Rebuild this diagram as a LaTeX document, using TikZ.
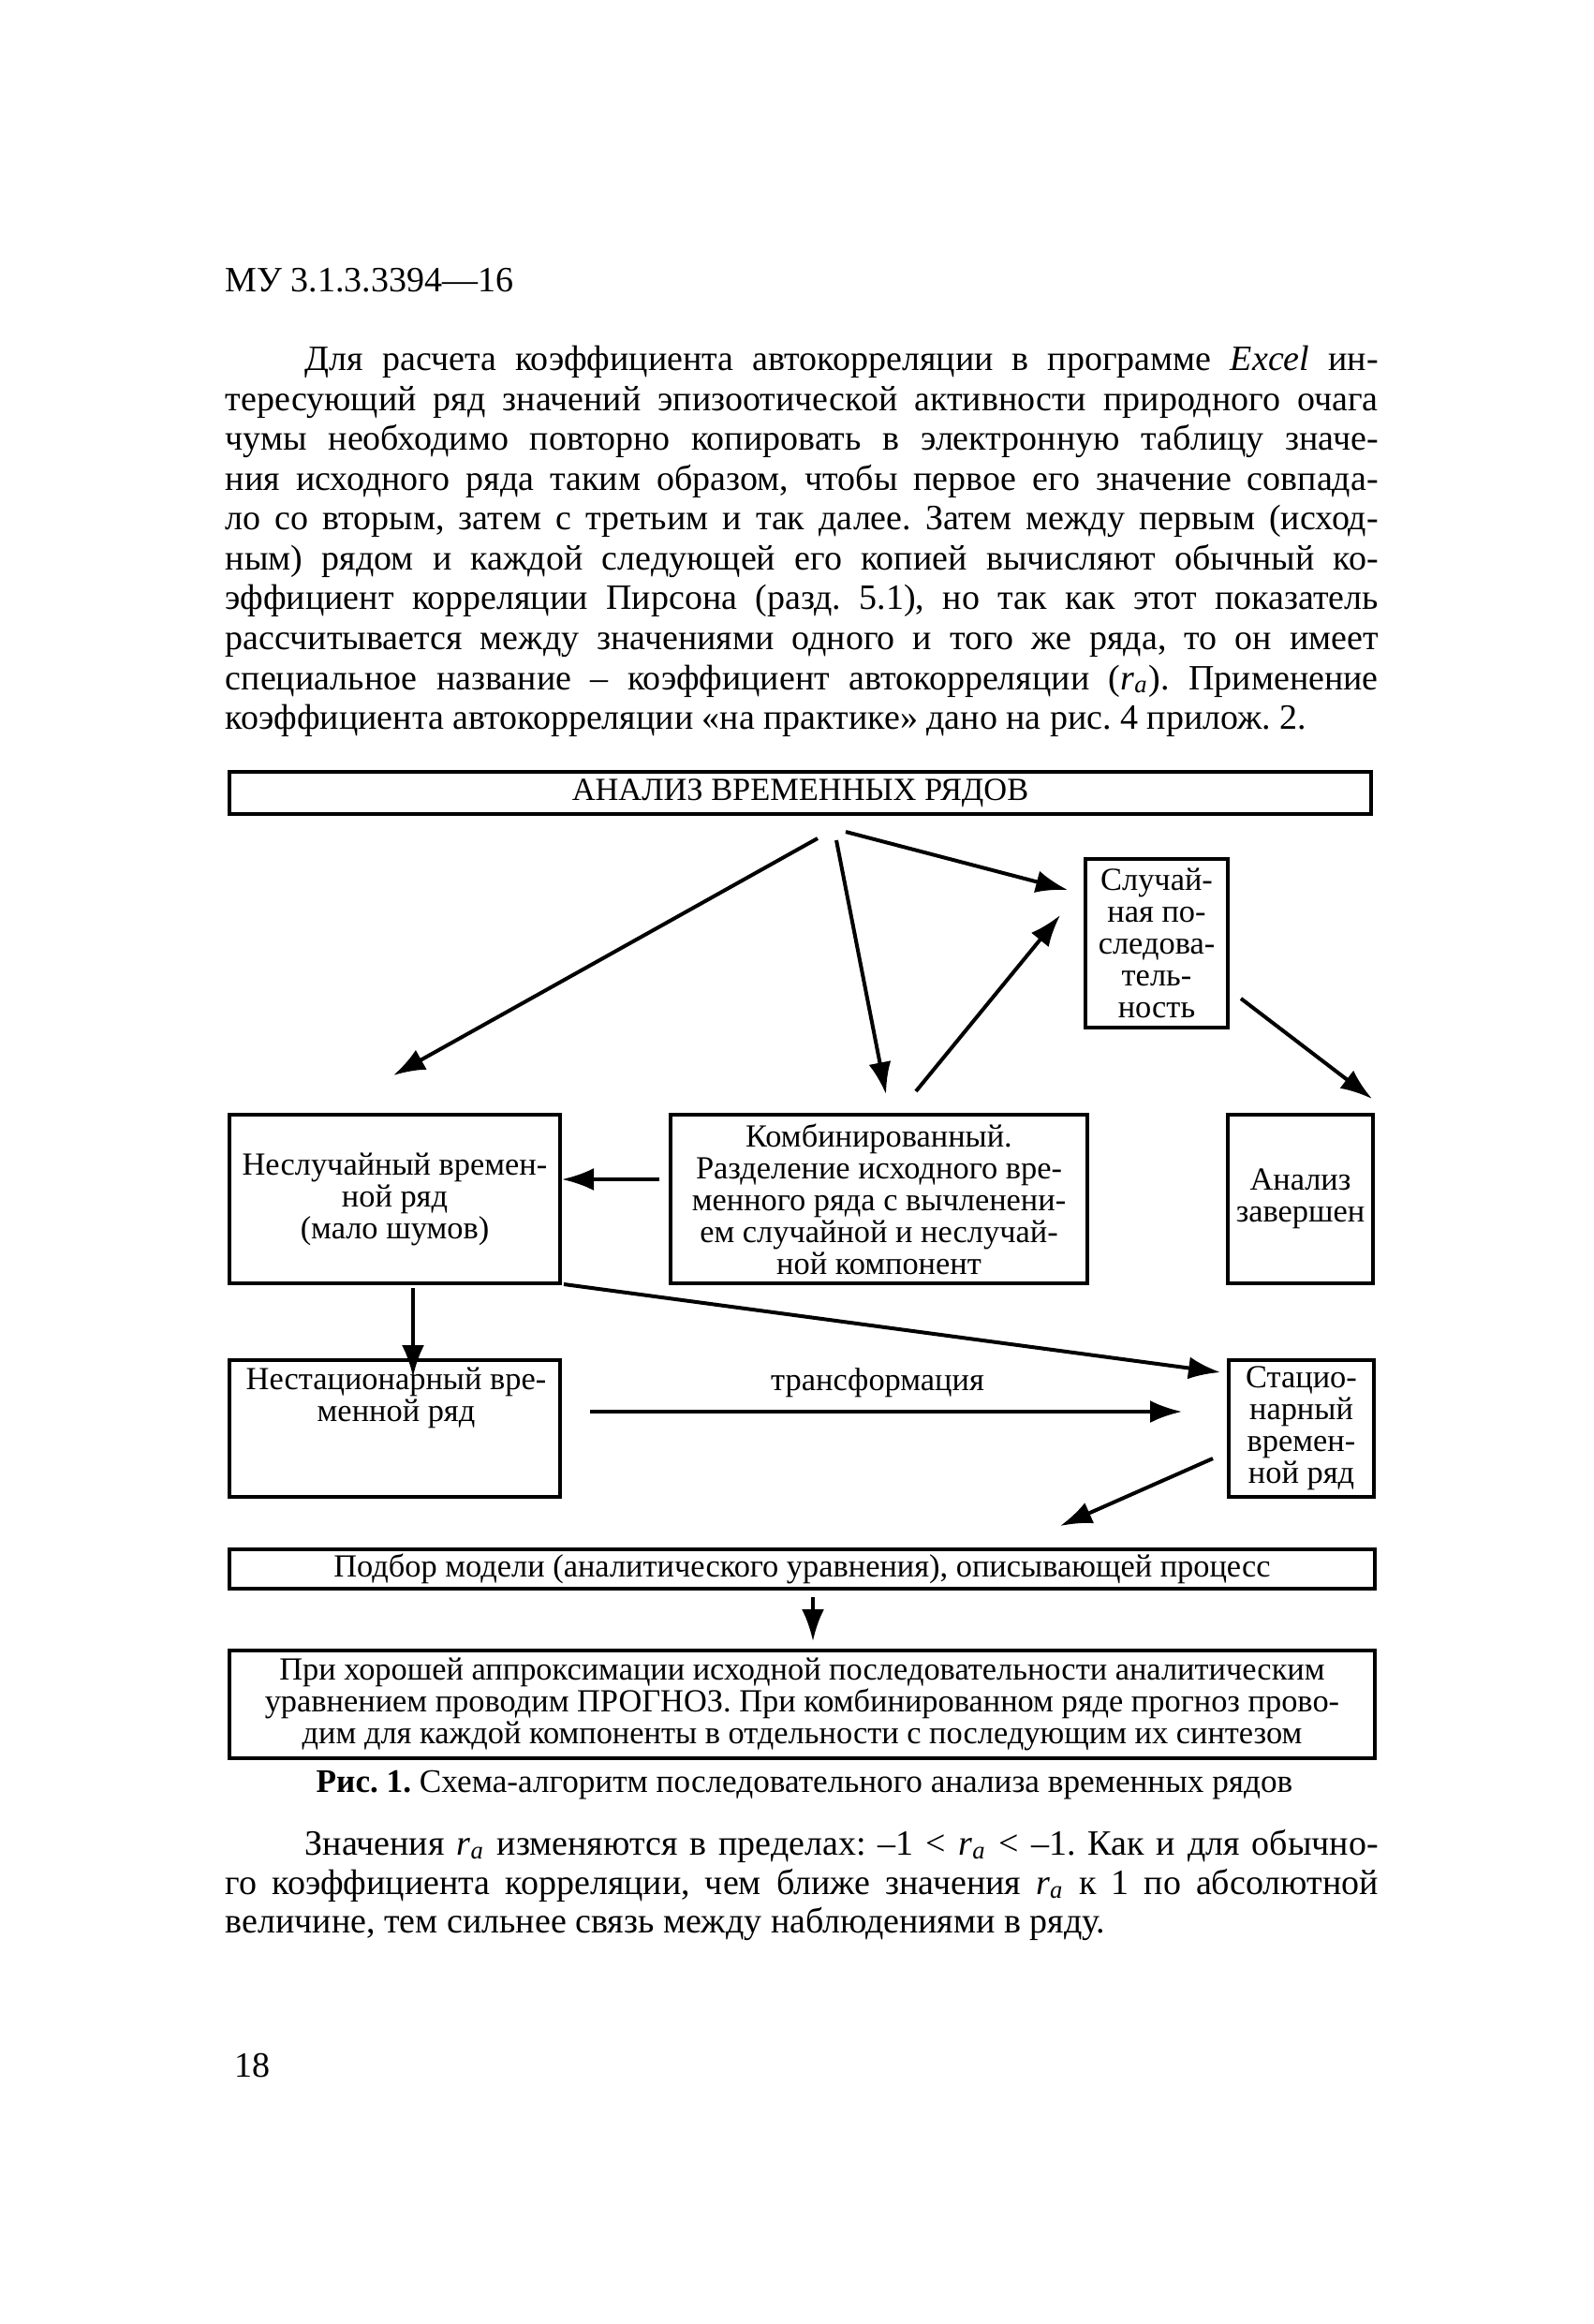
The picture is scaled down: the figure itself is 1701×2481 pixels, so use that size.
\documentclass[tikz,border=0pt]{standalone}
\usepackage{fontspec}
\setmainfont{Liberation Serif}
\usetikzlibrary{arrows.meta}
\frenchspacing
\newcommand{\ra}{\textit{r}\textsubscript{\textit{a}}}
\newcommand{\jl}[1]{\makebox[307.75pt][s]{#1}}
\newcommand{\jli}[1]{\makebox[286.5pt][s]{#1}}
\begin{document}
\begin{tikzpicture}[x=0.25pt,y=-0.25pt,
  txt/.style={inner sep=0pt, anchor=base west, font=\fontsize{9.5}{10.6}\selectfont},
  box/.style={draw, line width=0.85pt, inner sep=0pt, align=center, font=\fontsize{8.6}{8.5}\selectfont},
  btxt/.style={inner sep=0pt, align=center, font=\fontsize{8.6}{8.5}\selectfont},
  arr/.style={line width=1pt, -{Latex[length=8.5pt,width=6pt]}},
]
\useasboundingbox[fill=white] (0,0) rectangle (1701,2481);

% header and first paragraph
\node[txt] (hdr) at (240,312) {МУ 3.1.3.3394—16};
\node[txt] (p1a) at (325,396) {\jli{Для расчета коэффициента автокорреляции в программе \textit{Excel} ин-}};
\node[txt] (p1b) at (240,438.5) {\jl{тересующий ряд значений эпизоотической активности природного очага}};
\node[txt] (p1c) at (240,481) {\jl{чумы необходимо повторно копировать в электронную таблицу значе-}};
\node[txt] (p1d) at (240,523.5) {\jl{ния исходного ряда таким образом, чтобы первое его значение совпада-}};
\node[txt] (p1e) at (240,566) {\jl{ло со вторым, затем с третьим и так далее. Затем между первым (исход-}};
\node[txt] (p1f) at (240,608.5) {\jl{ным) рядом и каждой следующей его копией вычисляют обычный ко-}};
\node[txt] (p1g) at (240,651) {\jl{эффициент корреляции Пирсона (разд. 5.1), но так как этот показатель}};
\node[txt] (p1h) at (240,693.5) {\jl{рассчитывается между значениями одного и того же ряда, то он имеет}};
\node[txt] (p1i) at (240,736) {\jl{специальное название – коэффициент автокорреляции (\ra). Применение}};
\node[txt] (p1j) at (240,778.5) {коэффициента автокорреляции «на практике» дано на рис. 4 прилож. 2.};

% boxes
\node[box, minimum width=304.75pt, minimum height=11.25pt] (T) at (854.5,846.5) {АНАЛИЗ ВРЕМЕННЫХ РЯДОВ};
\node[box, minimum width=38pt, minimum height=45pt] (S) at (1235,1007) {Случай-\\ная по-\\следова-\\тель-\\ность};
\node[box, minimum width=88.25pt, minimum height=45pt] (N1) at (421.5,1280) {Неслучайный времен-\\ной ряд\\(мало шумов)};
\node[box, minimum width=111.25pt, minimum height=45pt] (K) at (938.5,1280) {Комбинированный.\\Разделение исходного вре-\\менного ряда с вычленени-\\ем случайной и неслучай-\\ной компонент};
\node[box, minimum width=38.75pt, minimum height=45pt] (Z) at (1388.5,1280) {Анализ\\завершен};
\node[box, minimum width=88.25pt, minimum height=36.5pt] (NS) at (421.5,1525) {};
\node[btxt, anchor=base] (NStxt) at (423,1517) {Нестационарный вре-\\менной ряд};
\node[box, minimum width=38.75pt, minimum height=36.5pt] (ST) at (1389.5,1525) {Стацио-\\нарный\\времен-\\ной ряд};
\node[btxt, anchor=base] (tr) at (937,1484) {трансформация};
\node[box, minimum width=305.75pt, minimum height=10.5pt] (P) at (856.5,1675) {Подбор модели (аналитического уравнения), описывающей процесс};
\node[box, minimum width=305.75pt, minimum height=28.75pt] (PR) at (856.5,1819.5) {При хорошей аппроксимации исходной последовательности аналитическим\\уравнением проводим ПРОГНОЗ. При комбинированном ряде прогноз прово-\\дим для каждой компоненты в отдельности с последующим их синтезом};

% arrow end points
\coordinate (a1s) at (873,895);  \coordinate (a1e) at (420,1148);
\coordinate (a2s) at (893,897);  \coordinate (a2e) at (946,1168);
\coordinate (a3s) at (903,888);  \coordinate (a3e) at (1140,950);
\coordinate (a4s) at (978,1165); \coordinate (a4e) at (1132,977);
\coordinate (a5s) at (1325,1066);\coordinate (a5e) at (1465,1173);
\coordinate (a6s) at (704,1259); \coordinate (a6e) at (600,1259);
\coordinate (a7s) at (441,1375); \coordinate (a7e) at (441,1470);
\coordinate (a8s) at (602,1371); \coordinate (a8e) at (1303,1465);
\coordinate (a9s) at (630,1507); \coordinate (a9e) at (1262,1507);
\coordinate (a10s) at (1295,1557); \coordinate (a10e) at (1132,1629);
\coordinate (a11s) at (868,1705); \coordinate (a11e) at (868,1752);

\draw[arr] (a1s) -- (a1e);
\draw[arr] (a2s) -- (a2e);
\draw[arr] (a3s) -- (a3e);
\draw[arr] (a4s) -- (a4e);
\draw[arr] (a5s) -- (a5e);
\draw[arr] (a6s) -- (a6e);
\draw[arr] (a7s) -- (a7e);
\draw[arr] (a8s) -- (a8e);
\draw[arr] (a9s) -- (a9e);
\draw[arr] (a10s) -- (a10e);
\draw[arr] (a11s) -- (a11e);

% caption
\node[inner sep=0pt, anchor=base, font=\fontsize{8.8}{9}\selectfont] (cap) at (859,1913) {\textbf{Рис. 1.} Схема-алгоритм последовательного анализа временных рядов};

% second paragraph
\node[txt] (p2a) at (325,1980) {\jli{Значения \ra{} изменяются в пределах: –1 < \ra{} < –1. Как и для обычно-}};
\node[txt] (p2b) at (240,2022) {\jl{го коэффициента корреляции, чем ближе значения \ra{} к 1 по абсолютной}};
\node[txt] (p2c) at (240,2063) {величине, тем сильнее связь между наблюдениями в ряду.};

\node[txt] (pg) at (250,2217) {18};
\end{tikzpicture}
\end{document}
